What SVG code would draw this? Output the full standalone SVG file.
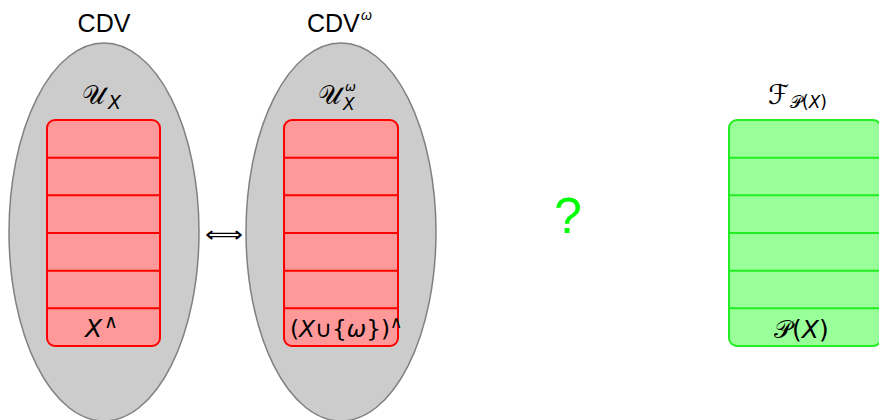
<svg xmlns="http://www.w3.org/2000/svg" width="879" height="420" viewBox="0 0 879 420">
<style>
.ell{fill:#cccccc;stroke:#808080;stroke-width:1.5}
.red{fill:#ff9999;stroke:#ff0000;stroke-width:2}
.redl{stroke:#ff0000;stroke-width:2}
.grn{fill:#99ff99;stroke:#22ee22;stroke-width:2}
.grnl{stroke:#22ee22;stroke-width:2}
.t{font-family:"Liberation Sans",Arial,sans-serif;fill:#000}
.m{font-family:"DejaVu Sans","Noto Sans",sans-serif;fill:#000}
.i{font-style:italic}
</style>
<g id="cdv">
<text class="t" x="104" y="32" font-size="25" text-anchor="middle">CDV</text>
<ellipse class="ell" cx="104" cy="232" rx="95" ry="189"/>
<text class="m" x="82" y="104" font-size="26">𝒰</text>
<text class="m i" x="108" y="109" font-size="19">X</text>
<rect class="red" x="47" y="120" width="113" height="226" rx="8"/>
<path class="redl" d="M47 157.7H160M47 195.3H160M47 233H160M47 270.7H160M47 308.3H160"/>
<text class="m i" x="85" y="337" font-size="25">X</text>
<text class="m" x="104" y="328" font-size="19">∧</text>
</g>
<g id="cdvw">
<text class="t" x="307" y="32" font-size="25">CDV</text>
<text class="t i" x="361" y="20" font-size="14">ω</text>
<ellipse class="ell" cx="341" cy="232" rx="95" ry="189"/>
<text class="m" x="318" y="104" font-size="26">𝒰</text>
<text class="m i" x="343" y="110" font-size="17">X</text>
<text class="m i" x="345" y="91" font-size="13">ω</text>
<rect class="red" x="284" y="120" width="114" height="226" rx="8"/>
<path class="redl" d="M284 157.7H398M284 195.3H398M284 233H398M284 270.7H398M284 308.3H398"/>
<text class="m" x="290" y="337" font-size="23" textLength="100" lengthAdjust="spacingAndGlyphs">(<tspan class="i">X</tspan>∪{<tspan class="i">ω</tspan>})</text>
<text class="m" x="390" y="328" font-size="17">∧</text>
</g>
<g id="connectors">
<text class="m" x="205" y="242" font-size="22" textLength="38" lengthAdjust="spacingAndGlyphs">⟺</text>
</g>
<g id="question">
<text class="t" x="568" y="233" font-size="50" text-anchor="middle" style="fill:#00ff00">?</text>
</g>
<g id="fpx">
<text class="m" x="768" y="104" font-size="27">ℱ</text>
<text class="m" x="790" y="108" font-size="17">𝒫(<tspan class="i">X</tspan>)</text>
<rect class="grn" x="729" y="120" width="152" height="226" rx="8"/>
<path class="grnl" d="M729 157.7H879M729 195.3H879M729 233H879M729 270.7H879M729 308.3H879"/>
<text class="m" x="774" y="338" font-size="25">𝒫(<tspan class="i">X</tspan>)</text>
</g>
</svg>
